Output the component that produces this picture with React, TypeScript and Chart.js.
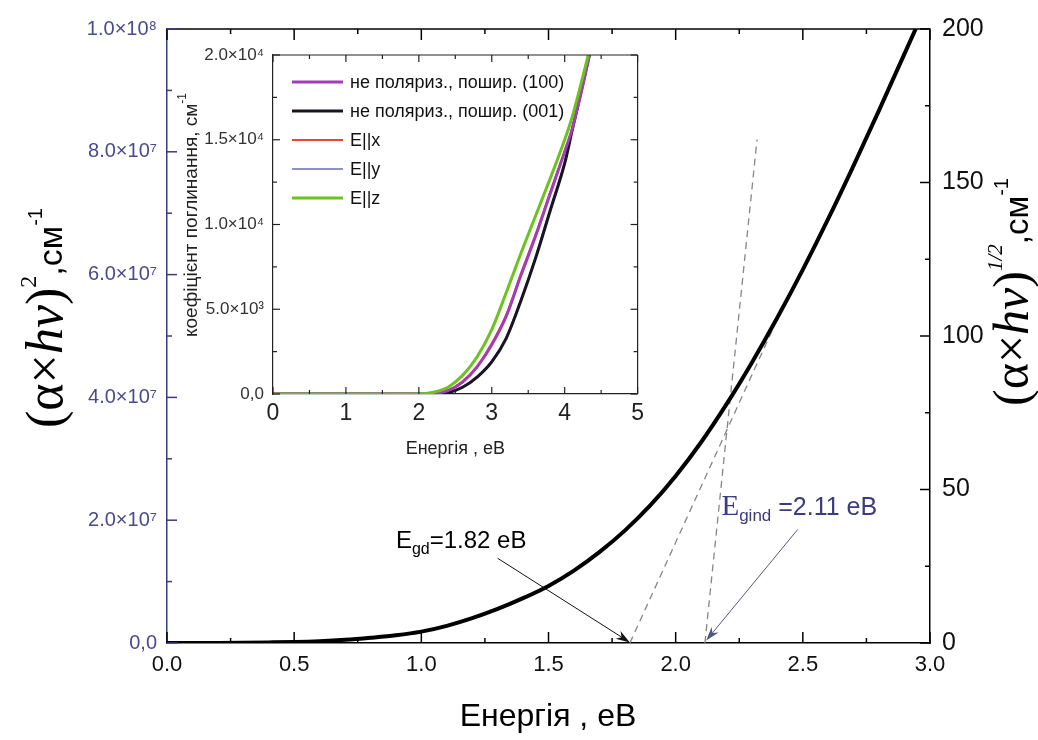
import React, { useEffect, useRef } from "react";
import { Chart, registerables } from "chart.js";
Chart.register(...registerables);

// ---------- main chart data ----------
const energy = [0, 0.1, 0.2, 0.3, 0.4, 0.5, 0.6, 0.7, 0.8, 0.9, 1.0, 1.1, 1.2, 1.3, 1.4, 1.5, 1.6, 1.7, 1.8, 1.9, 2.0, 2.1, 2.2, 2.3, 2.4, 2.5, 2.6, 2.7, 2.8, 2.9, 2.95];
const alphaHvSq = [0, 0.005e6, 0.02e6, 0.05e6, 0.1e6, 0.17e6, 0.3e6, 0.52e6, 0.85e6, 1.25e6, 1.85e6, 2.8e6, 4.05e6, 5.55e6, 7.3e6, 9.3e6, 11.8e6, 14.8e6, 18.3e6, 22.4e6, 27.2e6, 32.7e6, 38.9e6, 45.7e6, 53.0e6, 60.8e6, 69.1e6, 77.8e6, 86.8e6, 96.0e6, 100.6e6];
const directTangentE = [1.82, 2.42];
const directTangentV = [0, 54.6e6];
const indirectTangentE = [2.115, 2.32];
const indirectTangentV = [0, 82e6];
const xTickLabels = ["0.0", "0.5", "1.0", "1.5", "2.0", "2.5", "3.0"];
const leftTickLabels = ["0,0", "2.0×10⁷", "4.0×10⁷", "6.0×10⁷", "8.0×10⁷", "1.0×10⁸"];
const rightTickLabels = ["0", "50", "100", "150", "200"];

// annotation anchors in data units (energy, left-axis value)
const egdArrowFrom = [1.3, 13.8e6];
const egdArrowTo = [1.82, 0.1e6];
const egindArrowFrom = [2.48, 18.5e6];
const egindArrowTo = [2.12, 0.4e6];
const egdLabelAt = [0.9, 15.5e6];
const egindLabelAt = [2.18, 20.8e6];

// ---------- inset data ----------
const insetEnergy = [0, 0.5, 1.0, 1.5, 2.0, 2.2, 2.4, 2.6, 2.8, 3.0, 3.2, 3.4, 3.6, 3.8, 4.0, 4.1, 4.2, 4.3, 4.4];
const unpol100 = [0, 0, 0, 0, 0, 0.03e3, 0.2e3, 0.7e3, 1.6e3, 2.9e3, 4.6e3, 7.0e3, 9.3e3, 11.8e3, 14.3e3, 15.6e3, 17.3e3, 19.2e3, 21.2e3];
const unpol001 = [0, 0, 0, 0, 0, 0, 0.08e3, 0.4e3, 1.0e3, 1.9e3, 3.3e3, 5.5e3, 8.0e3, 10.8e3, 13.6e3, 15.5e3, 17.4e3, 19.3e3, 21.2e3];
const eParX = [0, 0, 0, 0, 0, 0.04e3, 0.22e3, 0.75e3, 1.65e3, 3.0e3, 4.7e3, 7.1e3, 9.4e3, 11.9e3, 14.3e3, 15.6e3, 17.3e3, 19.2e3, 21.2e3];
const eParY = [0, 0, 0, 0, 0, 0, 0.09e3, 0.42e3, 1.05e3, 1.95e3, 3.35e3, 5.6e3, 8.1e3, 10.9e3, 13.7e3, 15.5e3, 17.4e3, 19.3e3, 21.2e3];
const eParZ = [0, 0, 0, 0, 0, 0.1e3, 0.4e3, 1.1e3, 2.2e3, 3.8e3, 6.0e3, 8.3e3, 10.5e3, 12.7e3, 15.0e3, 16.3e3, 17.9e3, 19.6e3, 21.4e3];
const insetLegendLabels = ["не поляриз., пошир. (100)", "не поляриз., пошир. (001)", "E||x", "E||y", "E||z"];
const insetXTickLabels = ["0", "1", "2", "3", "4", "5"];
const insetYTickLabels = ["0,0", "5.0×10³", "1.0×10⁴", "1.5×10⁴", "2.0×10⁴"];

const SANS = '"Liberation Sans", Arial, sans-serif';
const SERIF = '"Liberation Serif", "Times New Roman", serif';
const NAVY = "#3c3b80";

type Part = { text: string; font: string; dy?: number; color?: string };

function drawRich(ctx: CanvasRenderingContext2D, parts: Part[], x: number, y: number, angle: number, align: "center" | "left", color = "#000") {
  ctx.save();
  ctx.translate(x, y);
  ctx.rotate(angle);
  ctx.textBaseline = "alphabetic";
  ctx.textAlign = "left";
  let total = 0;
  for (const p of parts) {
    ctx.font = p.font;
    total += ctx.measureText(p.text).width;
  }
  let cx = align === "center" ? -total / 2 : 0;
  for (const p of parts) {
    ctx.font = p.font;
    ctx.fillStyle = p.color || color;
    ctx.fillText(p.text, cx, p.dy || 0);
    cx += ctx.measureText(p.text).width;
  }
  ctx.restore();
}

function seg(ctx: CanvasRenderingContext2D, x1: number, y1: number, x2: number, y2: number) {
  ctx.beginPath();
  ctx.moveTo(x1, y1);
  ctx.lineTo(x2, y2);
  ctx.stroke();
}

function arrow(ctx: CanvasRenderingContext2D, x1: number, y1: number, x2: number, y2: number, color: string) {
  const ang = Math.atan2(y2 - y1, x2 - x1);
  const hl = 14, hw = 4.5;
  ctx.save();
  ctx.strokeStyle = color;
  ctx.fillStyle = color;
  ctx.lineWidth = 1;
  seg(ctx, x1, y1, x2 - Math.cos(ang) * hl * 0.6, y2 - Math.sin(ang) * hl * 0.6);
  ctx.beginPath();
  ctx.moveTo(x2, y2);
  ctx.lineTo(x2 - Math.cos(ang) * hl - Math.sin(ang) * hw, y2 - Math.sin(ang) * hl + Math.cos(ang) * hw);
  ctx.lineTo(x2 - Math.cos(ang) * hl * 0.7, y2 - Math.sin(ang) * hl * 0.7);
  ctx.lineTo(x2 - Math.cos(ang) * hl + Math.sin(ang) * hw, y2 - Math.sin(ang) * hl - Math.cos(ang) * hw);
  ctx.closePath();
  ctx.fill();
  ctx.restore();
}

const mainDecor = {
  id: "mainDecor",
  afterDraw(chart: any) {
    const { ctx, chartArea: a, scales } = chart;
    const xs = scales.x, yl = scales.y, yr = scales.y1;
    ctx.save();
    ctx.lineCap = "butt";
    // top border
    ctx.strokeStyle = "#000";
    ctx.lineWidth = 1.5;
    seg(ctx, a.left, a.top, a.right, a.top);
    // x ticks (bottom + top), inward
    for (let i = 0; i <= 12; i++) {
      const px = xs.getPixelForValue(i * 0.25);
      const len = i % 2 === 0 ? 11 : 5;
      seg(ctx, px, a.bottom, px, a.bottom - len);
      seg(ctx, px, a.top, px, a.top + len);
    }
    // left ticks
    ctx.strokeStyle = NAVY;
    for (let i = 0; i <= 10; i++) {
      const py = yl.getPixelForValue(i * 1e7);
      const len = i % 2 === 0 ? 10 : 5;
      seg(ctx, a.left, py, a.left + len, py);
    }
    // right ticks
    ctx.strokeStyle = "#000";
    for (let i = 0; i <= 8; i++) {
      const py = yr.getPixelForValue(i * 25);
      const len = i % 2 === 0 ? 10 : 5;
      seg(ctx, a.right, py, a.right - len, py);
    }
    // axis titles
    drawRich(ctx, [
      { text: "(α×", font: `52px ${SERIF}` },
      { text: "hν", font: `italic 52px ${SERIF}` },
      { text: ")", font: `52px ${SERIF}` },
      { text: "2", font: `24px ${SERIF}`, dy: -26 },
      { text: ",см", font: `34px ${SANS}` },
      { text: "-1", font: `20px ${SANS}`, dy: -20 },
    ], 62, 318, -Math.PI / 2, "center");
    drawRich(ctx, [
      { text: "(α×", font: `50px ${SERIF}` },
      { text: "hν", font: `italic 50px ${SERIF}` },
      { text: ")", font: `50px ${SERIF}` },
      { text: "1/2", font: `italic 21px ${SERIF}`, dy: -26 },
      { text: ",см", font: `33px ${SANS}` },
      { text: "-1", font: `20px ${SANS}`, dy: -20 },
    ], 1028, 292, -Math.PI / 2, "center");
    drawRich(ctx, [{ text: "Енергія , eB", font: `32px ${SANS}` }], 548, 726, 0, "center");

    // annotations
    const px = (e: number) => xs.getPixelForValue(e);
    const py = (v: number) => yl.getPixelForValue(v);
    arrow(ctx, px(egdArrowFrom[0]), py(egdArrowFrom[1]), px(egdArrowTo[0]), py(egdArrowTo[1]), "#111");
    arrow(ctx, px(egindArrowFrom[0]), py(egindArrowFrom[1]), px(egindArrowTo[0]), py(egindArrowTo[1]), "#55557a");
    drawRich(ctx, [
      { text: "E", font: `24px ${SANS}` },
      { text: "gd", font: `16px ${SANS}`, dy: 6 },
      { text: "=1.82 eB", font: `24px ${SANS}` },
    ], px(egdLabelAt[0]), py(egdLabelAt[1]), 0, "left", "#000");
    drawRich(ctx, [
      { text: "E", font: `29px ${SERIF}` },
      { text: "gind", font: `17px ${SANS}`, dy: 6 },
      { text: " =2.11 eB", font: `25px ${SANS}` },
    ], px(egindLabelAt[0]), py(egindLabelAt[1]), 0, "left", NAVY);
    ctx.restore();
  },
};

const insetColors = ["#a23db5", "#1a1420", "#e8453c", "#9090c8", "#6cc21e"];
const insetWidths = [3, 3, 2, 2, 3];

const insetDecor = {
  id: "insetDecor",
  afterDraw(chart: any) {
    const { ctx, chartArea: a, scales } = chart;
    const xs = scales.x, ys = scales.y;
    ctx.save();
    ctx.strokeStyle = "#222";
    ctx.lineWidth = 1.2;
    seg(ctx, a.left, a.top, a.right, a.top);
    seg(ctx, a.right, a.top, a.right, a.bottom);
    for (let i = 0; i <= 10; i++) {
      const px = xs.getPixelForValue(i * 0.5);
      const len = i % 2 === 0 ? 7 : 4;
      seg(ctx, px, a.bottom, px, a.bottom - len);
      seg(ctx, px, a.top, px, a.top + len);
    }
    for (let i = 0; i <= 8; i++) {
      const py = ys.getPixelForValue(i * 2500);
      const len = i % 2 === 0 ? 7 : 4;
      seg(ctx, a.left, py, a.left + len, py);
      seg(ctx, a.right, py, a.right - len, py);
    }
    // legend
    insetLegendLabels.forEach((label, k) => {
      const y = a.top + 27 + k * 29;
      ctx.strokeStyle = insetColors[k];
      ctx.lineWidth = insetWidths[k];
      seg(ctx, a.left + 19, y, a.left + 70, y);
      ctx.fillStyle = "#111";
      ctx.font = `18px ${SANS}`;
      ctx.textBaseline = "middle";
      ctx.textAlign = "left";
      ctx.fillText(label, a.left + 77, y + 1);
    });
    // titles
    drawRich(ctx, [{ text: "Енергія , eB", font: `18px ${SANS}` }], (a.left + a.right) / 2, 419, 0, "center", "#222");
    drawRich(ctx, [
      { text: "коефіцієнт поглинання, см", font: `19px ${SANS}` },
      { text: "-1", font: `12px ${SANS}`, dy: -11 },
    ], 27, 180, -Math.PI / 2, "center", "#222");
    ctx.restore();
  },
};

export default function App() {
  const mainRef = useRef<HTMLCanvasElement | null>(null);
  const insetRef = useRef<HTMLCanvasElement | null>(null);

  useEffect(() => {
    const main = new Chart(mainRef.current as HTMLCanvasElement, {
      type: "line",
      data: {
        datasets: [
          {
            data: energy.map((e, i) => ({ x: e, y: alphaHvSq[i] })),
            borderColor: "#000",
            borderWidth: 4,
            pointRadius: 0,
            cubicInterpolationMode: "monotone",
            yAxisID: "y",
          },
          {
            data: directTangentE.map((e, i) => ({ x: e, y: directTangentV[i] })),
            borderColor: "#858590",
            borderWidth: 1.3,
            borderDash: [7, 5],
            pointRadius: 0,
            yAxisID: "y",
          },
          {
            data: indirectTangentE.map((e, i) => ({ x: e, y: indirectTangentV[i] })),
            borderColor: "#858590",
            borderWidth: 1.3,
            borderDash: [7, 5],
            pointRadius: 0,
            yAxisID: "y",
          },
        ],
      },
      options: {
        responsive: false,
        animation: false,
        events: [],
        layout: { padding: { top: 29, left: 0, right: 0, bottom: 0 } },
        plugins: { legend: { display: false }, tooltip: { enabled: false } },
        scales: {
          x: {
            type: "linear",
            min: 0,
            max: 3,
            grid: { drawOnChartArea: false, drawTicks: false },
            border: { display: true, color: "#000", width: 1.5 },
            ticks: {
              stepSize: 0.5,
              padding: 9,
              color: "#111",
              font: { family: SANS, size: 22 },
              maxRotation: 0,
              callback: (_v: any, i: number) => xTickLabels[i],
            },
            afterFit: (s: any) => { s.height = 97; },
          },
          y: {
            position: "left",
            min: 0,
            max: 1e8,
            grid: { drawOnChartArea: false, drawTicks: false },
            border: { display: true, color: NAVY, width: 1.5 },
            ticks: {
              stepSize: 2e7,
              padding: 10,
              color: "#4a4a8e",
              font: { family: SANS, size: 20 },
              callback: (_v: any, i: number) => leftTickLabels[i],
            },
            afterFit: (s: any) => { s.width = 167; },
          },
          y1: {
            position: "right",
            min: 0,
            max: 200,
            grid: { drawOnChartArea: false, drawTicks: false },
            border: { display: true, color: "#000", width: 1.5 },
            ticks: {
              stepSize: 50,
              padding: 12,
              color: "#111",
              font: { family: SANS, size: 25 },
              callback: (_v: any, i: number) => rightTickLabels[i],
            },
            afterFit: (s: any) => { s.width = 108; },
          },
        },
      } as any,
      plugins: [mainDecor],
    });

    const insetSeries = [unpol100, unpol001, eParX, eParY, eParZ];
    const drawOrder = [1, 2, 3, 4, 0];
    const inset = new Chart(insetRef.current as HTMLCanvasElement, {
      type: "line",
      data: {
        datasets: insetSeries.map((s, k) => ({
          data: insetEnergy.map((e, i) => ({ x: e, y: s[i] })),
          borderColor: insetColors[k],
          borderWidth: insetWidths[k],
          pointRadius: 0,
          cubicInterpolationMode: "monotone",
          order: drawOrder[k],
        })),
      },
      options: {
        responsive: false,
        animation: false,
        events: [],
        layout: { padding: { top: 20, right: 10, left: 0, bottom: 0 } },
        plugins: { legend: { display: false }, tooltip: { enabled: false } },
        scales: {
          x: {
            type: "linear",
            min: 0,
            max: 5,
            grid: { drawOnChartArea: false, drawTicks: false },
            border: { display: true, color: "#222", width: 1.2 },
            ticks: {
              stepSize: 1,
              padding: 6,
              color: "#222",
              font: { family: SANS, size: 23 },
              maxRotation: 0,
              callback: (_v: any, i: number) => insetXTickLabels[i],
            },
            afterFit: (s: any) => { s.height = 71; },
          },
          y: {
            min: 0,
            max: 2e4,
            grid: { drawOnChartArea: false, drawTicks: false },
            border: { display: true, color: "#222", width: 1.2 },
            ticks: {
              stepSize: 5000,
              padding: 9,
              color: "#333",
              font: { family: SANS, size: 17 },
              callback: (_v: any, i: number) => insetYTickLabels[i],
            },
            afterFit: (s: any) => { s.width = 103; },
          },
        },
      } as any,
      plugins: [insetDecor],
    });

    return () => {
      main.destroy();
      inset.destroy();
    };
  }, []);

  return (
    <div style={{ position: "fixed", left: 0, top: 0, width: 1038, height: 740, background: "#fff" }}>
      <canvas ref={mainRef} width={1038} height={740} style={{ position: "absolute", left: 0, top: 0, width: 1038, height: 740 }} />
      <canvas ref={insetRef} width={480} height={430} style={{ position: "absolute", left: 170, top: 35, width: 480, height: 430 }} />
    </div>
  );
}
